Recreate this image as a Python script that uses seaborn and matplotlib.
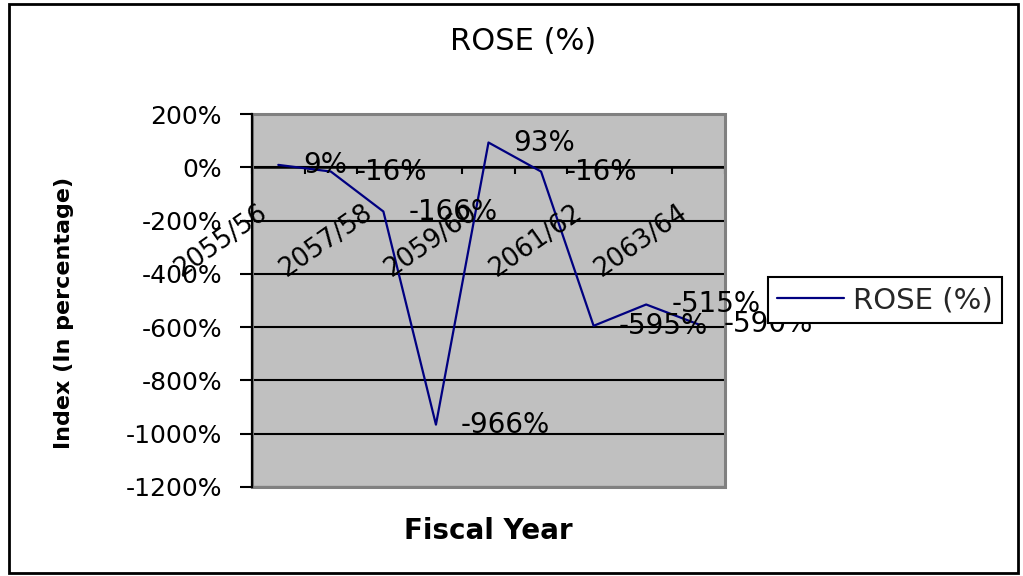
import matplotlib
matplotlib.use("Agg")
import matplotlib.pyplot as plt
import seaborn as sns
import pandas as pd
import numpy as np
from matplotlib.patches import Rectangle
from matplotlib.lines import Line2D

# ---- data ----
years = ["2055/56", "2056/57", "2057/58", "2058/59", "2059/60",
         "2060/61", "2061/62", "2062/63", "2063/64"]
rose = [9, -16, -166, -966, 93, -16, -595, -515, -590]
shown_years = ["2055/56", "2057/58", "2059/60", "2061/62", "2063/64"]
y_ticks = [200, 0, -200, -400, -600, -800, -1000, -1200]
title = "ROSE (%)"
series_name = "ROSE (%)"
x_title = "Fiscal Year"
y_title = "Index (In percentage)"

sns.set_theme(style="white")
plt.rcParams['font.family'] = ['DejaVu Sans']

W, H = 1023, 576
fig = plt.figure(figsize=(W / 100, H / 100), dpi=100)
fig.patch.set_facecolor("white")
ax = fig.add_axes([252 / W, 1 - 487 / H, 473 / W, 373 / H])
ax.set_facecolor("#C0C0C0")

df = pd.DataFrame({"pos": np.arange(len(years)), "value": rose})
sns.lineplot(data=df, x="pos", y="value", ax=ax, color="#000080",
             linewidth=1.6, legend=False, zorder=4)

ax.set_xlim(-0.5, len(years) - 0.5)
ax.set_ylim(min(y_ticks), max(y_ticks))
ax.set_yticks(y_ticks)
ax.set_yticklabels([f"{v}%" for v in y_ticks])
ax.set_xticks(np.arange(-0.5, len(years), 1.0))
ax.set_xticklabels([])
ax.set_xlabel("")
ax.set_ylabel("")

ax.yaxis.grid(True, color="black", linewidth=1.5)
ax.xaxis.grid(False)
ax.set_axisbelow(True)

for s in ["top", "right"]:
    ax.spines[s].set_visible(False)
ax.spines["left"].set_color("black")
ax.spines["left"].set_linewidth(1.6)
ax.spines["bottom"].set_position(("data", 0))
ax.spines["bottom"].set_color("black")
ax.spines["bottom"].set_linewidth(1.8)
ax.spines["left"].set_zorder(5)

ax.tick_params(axis="y", direction="out", length=8.6, width=1.5, color="black",
               pad=13, labelsize=18, labelcolor="black", left=True)
ax.tick_params(axis="x", direction="out", length=5, width=1.5, color="black",
               bottom=True)

# gray plot-area border
ax.add_patch(Rectangle((0, 0), 1, 1, transform=ax.transAxes, fill=False,
                       edgecolor="#808080", linewidth=2.2, clip_on=False, zorder=3))

# category labels
for i, yr in enumerate(years):
    if yr in shown_years:
        ax.annotate(yr, (i, 0), xytext=(-10, -31), textcoords="offset points",
                    ha="right", va="center", rotation=35, rotation_mode="anchor",
                    fontsize=18.5, color="black", annotation_clip=False, zorder=6)

# data labels
for i, v in enumerate(rose):
    ax.annotate(f"{v}%", (i, v), xytext=(18, 0), textcoords="offset points",
                ha="left", va="center", fontsize=20, color="black",
                annotation_clip=False, zorder=6)

# legend
handles = [Line2D([], [], color="#000080", linewidth=1.6)]
leg = fig.legend(handles, [series_name], loc="center",
                 bbox_to_anchor=(885 / W, 1 - 300 / H), bbox_transform=fig.transFigure,
                 frameon=True, fancybox=False, edgecolor="black", facecolor="white",
                 framealpha=1, fontsize=21, handlelength=2.3, handletextpad=0.3,
                 borderpad=0.3)
leg.get_frame().set_linewidth(1.5)
leg.set_zorder(10)

# titles
fig.text(523 / W, 1 - 41 / H, title, ha="center", va="center", fontsize=22, color="black")
fig.text(488 / W, 1 - 531 / H, x_title, ha="center", va="center", fontsize=20,
         fontweight="bold", color="black")
fig.text(64 / W, 1 - 313 / H, y_title, ha="center", va="center", rotation=90,
         fontsize=16, fontweight="bold", color="black")

# outer chart frame
fig.patches.append(Rectangle((9 / W, 3 / H), 1009 / W, 569 / H, transform=fig.transFigure,
                             fill=False, edgecolor="black", linewidth=2))

fig.savefig("out.png", dpi=100)
